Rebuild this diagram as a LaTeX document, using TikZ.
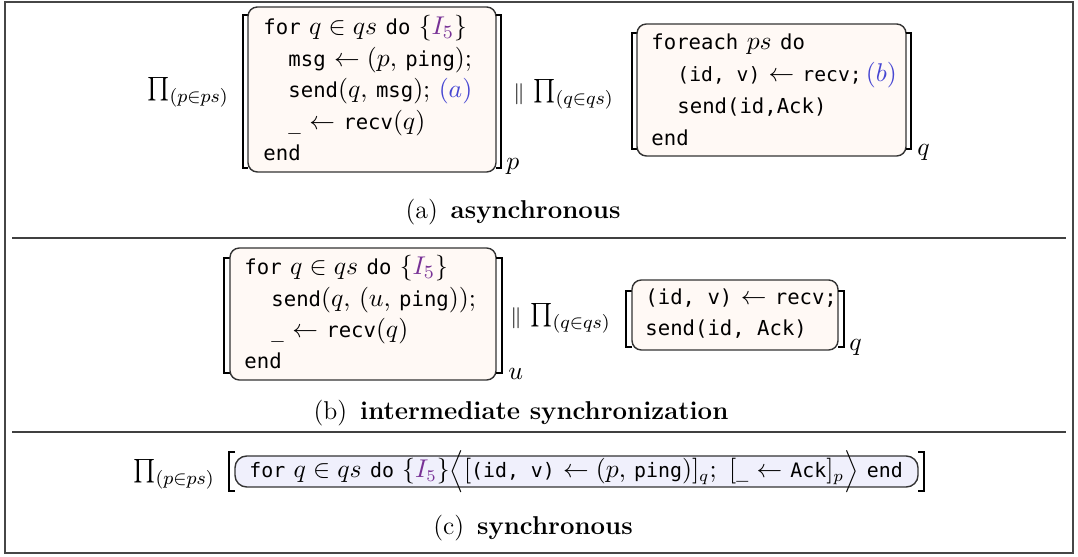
\documentclass[tikz,border=0pt]{standalone}
\usepackage{fontspec}
\setmonofont{DejaVu Sans Mono}[Scale=0.8]
\usetikzlibrary{fit}
\definecolor{boxfill}{RGB}{255,249,245}
\definecolor{syncfill}{RGB}{240,240,252}
\definecolor{invcol}{RGB}{120,50,150}
\definecolor{labcol}{RGB}{70,70,210}
\definecolor{framecol}{RGB}{70,70,70}

\begin{document}
\begin{tikzpicture}[x=0.015cm,y=-0.015cm,
  every node/.style={font=\fontsize{11}{13}\selectfont},
  codebox/.style={draw=black!80,fill=boxfill,rounded corners=4pt,line width=0.6pt,inner sep=0pt},
  syncbox/.style={draw=black!80,fill=syncfill,rounded corners=5pt,line width=0.6pt,inner sep=0pt},
  code/.style={anchor=base west,inner sep=0pt},
  brk/.style={line width=1pt},
  par/.style={font=\fontsize{9}{9}\selectfont},
  rule/.style={black!75,line width=0.8pt},
  capt/.style={anchor=base,inner sep=0pt}]
\useasboundingbox (0,0) rectangle (1078,557);
\draw[framecol,line width=1.2pt] (5,2) rectangle (1073,553);

% (a) asynchronous
\node[code] (prodA1) at (147,96) {$\prod_{(p\in ps)}$};
\draw[brk] (248,15) -- (243,15) -- (243,168) -- (248,168);
\node[codebox,fit={(248,7) (496,172)}] (boxA1) {};
\draw[brk] (496,15) -- (501,15) -- (501,168) -- (496,168);
\node[code] (subA1) at (506,170) {$p$};
\node[code] (pa1) at (263,35) {\texttt{for} $q\in qs$ \texttt{do} $\{\textcolor{invcol}{I_5}\}$};
\node[code] (pa2) at (288,67) {\texttt{msg} $\leftarrow (p,$ \texttt{ping}$);$};
\node[code] (pa3) at (288,98) {\texttt{send}$(q,$ \texttt{msg}$);$ \textcolor{labcol}{$(a)$}};
\node[code] (pa4) at (288,130) {\texttt{\_} $\leftarrow$ \texttt{recv}$(q)$};
\node[code] (pa5) at (263,161) {\texttt{end}};

\node[par] (parA) at (519,94) {$\|$};

\node[code] (prodA2) at (533,98) {$\prod_{(q\in qs)}$};
\draw[brk] (637,33) -- (632,33) -- (632,149) -- (637,149);
\node[codebox,fit={(637,24) (906,156)}] (boxA2) {};
\draw[brk] (906,33) -- (911,33) -- (911,149) -- (906,149);
\node[code] (subA2) at (917,156) {$q$};
\node[code] (qa1) at (651,50) {\texttt{foreach} $ps$ \texttt{do}};
\node[code,font=\fontsize{10.5}{13}\selectfont] (qa2) at (677,82) {\texttt{(id, v)} $\leftarrow$ \texttt{recv;}\,\textcolor{labcol}{$(b)$}};
\node[code] (qa3) at (677,114) {\texttt{send(id,Ack)}};
\node[code] (qa4) at (651,146) {\texttt{end}};

\node[capt] (captA) at (513,219) {(a)\enspace\textbf{asynchronous}};
\draw[rule] (12,238) -- (1066,238);

% (b) intermediate synchronization
\draw[brk] (230,258) -- (224,258) -- (224,373) -- (230,373);
\node[codebox,fit={(230,248) (496,380)}] (boxB1) {};
\draw[brk] (496,258) -- (502,258) -- (502,373) -- (496,373);
\node[code] (subB1) at (508,380) {$u$};
\node[code] (pb1) at (244,275) {\texttt{for} $q\in qs$ \texttt{do} $\{\textcolor{invcol}{I_5}\}$};
\node[code] (pb2) at (271,307) {\texttt{send}$(q,$ $(u,$ \texttt{ping}$));$};
\node[code] (pb3) at (271,338) {\texttt{\_} $\leftarrow$ \texttt{recv}$(q)$};
\node[code] (pb4) at (244,369) {\texttt{end}};

\node[par] (parB) at (516,318) {$\|$};

\node[code] (prodB) at (530,322) {$\prod_{(q\in qs)}$};
\draw[brk] (632,291) -- (626,291) -- (626,347) -- (632,347);
\node[codebox,fit={(632,280) (838,350)}] (boxB2) {};
\draw[brk] (838,291) -- (844,291) -- (844,347) -- (838,347);
\node[code] (subB2) at (849,351) {$q$};
\node[code] (qb1) at (645,305) {\texttt{(id, v)} $\leftarrow$ \texttt{recv;}};
\node[code] (qb2) at (645,336) {\texttt{send(id, Ack)}};

\node[capt] (captB) at (521,420) {(b)\enspace\textbf{intermediate synchronization}};
\draw[rule] (12,432) -- (1066,432);

% (c) synchronous
\node[code] (prodC) at (133,478) {$\prod_{(p\in ps)}$};
\draw[brk] (235,452) -- (229,452) -- (229,491) -- (235,491);
\node[syncbox,fit={(235,456) (918,487)}] (boxC) {};
\draw[brk] (918,452) -- (924,452) -- (924,491) -- (918,491);
\node[code,font=\fontsize{10.6}{13}\selectfont] (c1) at (249,478) {\texttt{for} $q\in qs$ \texttt{do} $\{\textcolor{invcol}{I_5}\}\Big\langle[$\texttt{(id, v)} $\leftarrow (p,$ \texttt{ping}$)]_q;\ [$\texttt{\_} $\leftarrow$ \texttt{Ack}$]_p\Big\rangle$ \texttt{end}};

\node[capt] (captC) at (533,535) {(c)\enspace\textbf{synchronous}};
\end{tikzpicture}
\end{document}
